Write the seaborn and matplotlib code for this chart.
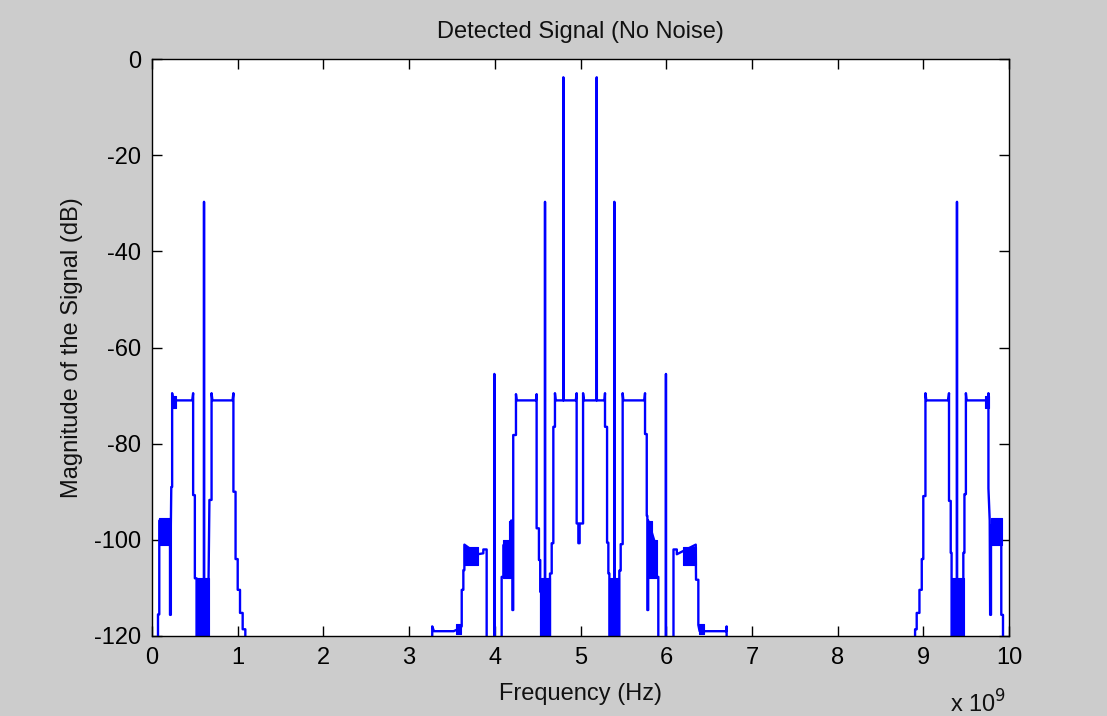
import numpy as np
import pandas as pd
import matplotlib
matplotlib.use("Agg")
import matplotlib.pyplot as plt
from matplotlib.ticker import FuncFormatter
import seaborn as sns

# ---- data (frequency in GHz, magnitude in dB) ----
FREQ_GHZ = [
    0.00, 0.07, 0.07, 0.085, 0.085, 0.21, 0.21, 0.22, 0.22, 0.225, 0.235, 0.235, 0.245,
    0.47, 0.48, 0.48, 0.50, 0.50, 0.52, 0.52, 0.605, 0.607, 0.609, 0.66, 0.66, 0.67,
    0.695, 0.695, 0.705, 0.94, 0.95, 0.95, 0.975, 0.975, 1.00, 1.00, 1.027, 1.027,
    1.058, 1.058, 1.089, 1.089,
    3.27, 3.27, 3.29, 3.52, 3.58, 3.614, 3.614, 3.633, 3.633, 3.645, 3.645, 3.80,
    3.866, 3.866, 3.905, 3.905, 3.993, 3.995, 3.997, 4.08, 4.08, 4.10, 4.10, 4.19,
    4.19, 4.205, 4.205, 4.215, 4.215, 4.247, 4.247, 4.255, 4.48, 4.488, 4.488, 4.515,
    4.515, 4.53, 4.53, 4.54, 4.54, 4.584, 4.586, 4.588, 4.644, 4.644, 4.664, 4.664,
    4.683, 4.683, 4.702, 4.702, 4.71, 4.798, 4.80, 4.802, 4.945, 4.955, 4.955, 4.975,
    4.975, 4.99, 4.99, 5.03, 5.03, 5.04, 5.187, 5.189, 5.191, 5.28, 5.286, 5.286,
    5.31, 5.31, 5.325, 5.325, 5.337, 5.337, 5.393, 5.395, 5.397, 5.453, 5.453, 5.469,
    5.469, 5.492, 5.492, 5.50, 5.745, 5.753, 5.753, 5.773, 5.773, 5.78, 5.78, 5.79,
    5.79, 5.875, 5.89, 5.89, 5.908, 5.908, 5.995, 5.997, 5.999, 6.085, 6.085, 6.124,
    6.124, 6.345, 6.348, 6.375, 6.375, 6.39, 6.70, 6.705, 6.705,
    8.904, 8.904, 8.923, 8.923, 8.955, 8.955, 8.982, 8.982, 9.00, 9.00, 9.025, 9.025,
    9.035, 9.29, 9.30, 9.30, 9.32, 9.32, 9.33, 9.33, 9.391, 9.393, 9.395, 9.467,
    9.467, 9.48, 9.48, 9.497, 9.497, 9.505, 9.755, 9.76, 9.76, 9.775, 9.78, 9.79,
    9.79, 9.91, 9.91, 9.93, 9.93, 10.0,
]
MAG_DB = [
    -140, -140, -115.5, -115.5, -96, -97, -115.6, -115.6, -97, -89, -89, -69.5, -71,
    -71, -69.5, -90.7, -90.7, -108, -108, -140, -140, -29.7, -140, -140, -108, -91.7,
    -91.7, -69.5, -71, -71, -69.5, -90, -90, -104, -104, -110.4, -110.4, -115.2,
    -115.2, -118.6, -118.6, -140,
    -140, -118, -119, -119, -118.5, -118, -110.4, -110.4, -106.3, -106.3, -101, -103,
    -102.8, -102, -102, -140, -140, -65.5, -140, -140, -107.7, -107.7, -101.1, -101,
    -96, -96, -114.6, -114.6, -78.2, -78.2, -69.7, -71, -71, -69.7, -97.6, -97.6,
    -104.2, -104.2, -110.8, -110.8, -140, -140, -29.7, -140, -140, -107, -107, -100.7,
    -100.7, -76.5, -76.5, -69.5, -71, -71, -3.8, -71, -71, -69.5, -96.6, -96.6,
    -100.7, -100.7, -96.6, -96.6, -69.5, -71, -71, -3.8, -71, -71, -69.5, -76.5,
    -76.5, -100.6, -100.6, -107, -107, -140, -140, -29.7, -140, -140, -106.4, -106.4,
    -100.9, -100.9, -69.5, -71, -71, -69.5, -78, -78, -95, -95, -114.6, -114.6,
    -96, -101, -101, -107.7, -107.7, -140, -140, -65.5, -140, -140, -102, -102,
    -103, -101, -108.3, -108.3, -117.7, -119, -119, -118, -140,
    -140, -118.6, -118.6, -115.2, -115.2, -110.4, -110.4, -104, -104, -90.9, -90.9, -69.5,
    -71, -71, -69.5, -91.9, -91.9, -102.7, -102.7, -140, -140, -29.7, -140, -140,
    -102.7, -102.7, -90.5, -90.5, -69.5, -71, -71, -69.5, -89.3, -96, -115.6, -115.6,
    -97, -97, -115.6, -115.6, -140, -140,
]

# dense ripple bands (start GHz, end GHz, low dB, high dB)
BAND_START = [0.085, 0.235, 0.515, 3.55, 3.645, 4.10, 4.16, 4.535, 5.345, 5.79, 5.79, 6.20, 6.38, 9.33, 9.72, 9.785]
BAND_END   = [0.215, 0.280, 0.665, 3.61, 3.800, 4.20, 4.20, 4.645, 5.455, 5.89, 5.84, 6.345, 6.44, 9.47, 9.765, 9.915]
BAND_LOW   = [-101, -72.5, -140, -119.5, -105.3, -108, -101, -140, -140, -108, -101, -105.3, -119.5, -140, -72.5, -101]
BAND_HIGH  = [-95.5, -70, -108, -117.5, -101.5, -100, -96, -108, -108, -100, -96, -101.5, -117.5, -108, -70, -95.5]

X_TICKS = [0, 1, 2, 3, 4, 5, 6, 7, 8, 9, 10]
Y_TICKS = [-120, -100, -80, -60, -40, -20, 0]

TITLE = "Detected Signal (No Noise)"
XLABEL = "Frequency (Hz)"
YLABEL = "Magnitude of the Signal (dB)"

# ---- styling ----
sns.set_theme(style="ticks")
plt.rcParams["font.family"] = ["Liberation Sans", "DejaVu Sans"]
plt.rcParams["axes.unicode_minus"] = False
BLUE = "#0000ff"
FIG_BG = "#cccccc"

fig = plt.figure(figsize=(11.07, 7.16), dpi=100, facecolor=FIG_BG)
ax = fig.add_axes([152 / 1107, 1 - 636 / 716, (1009 - 152) / 1107, (636 - 59) / 716])
ax.set_facecolor("white")

df = pd.DataFrame({"f": np.array(FREQ_GHZ) * 1e9, "db": MAG_DB})
sns.lineplot(data=df, x="f", y="db", sort=False, estimator=None,
             color=BLUE, linewidth=1.7, ax=ax, legend=False)

for f0, f1, lo, hi in zip(BAND_START, BAND_END, BAND_LOW, BAND_HIGH):
    ax.fill_between([f0 * 1e9, f1 * 1e9], [lo, lo], [hi, hi], color=BLUE, linewidth=0.8,
                    edgecolor=BLUE)

ax.set_xlim(0, 10e9)
ax.set_ylim(-120, 0)
ax.set_xticks([t * 1e9 for t in X_TICKS])
ax.xaxis.set_major_formatter(FuncFormatter(lambda v, p: f"{v / 1e9:g}"))
ax.set_yticks(Y_TICKS)

for s in ax.spines.values():
    s.set_color("black")
    s.set_linewidth(1.0)
    s.set_visible(True)

ax.tick_params(axis="both", which="both", direction="in", length=7, width=1,
               top=True, right=True, labelsize=17, colors="black", pad=8)

ax.set_title(TITLE, fontsize=17, pad=15, color="#111111")
ax.set_xlabel(XLABEL, fontsize=17, labelpad=10, color="#111111")
ax.set_ylabel(YLABEL, fontsize=17, labelpad=8, color="#111111")

fig.text(950 / 1107, 1 - 713 / 716, "x 10$^{9}$", fontsize=17, ha="left", va="baseline",
         color="#111111")

fig.savefig("out.png", dpi=100, facecolor=FIG_BG)
